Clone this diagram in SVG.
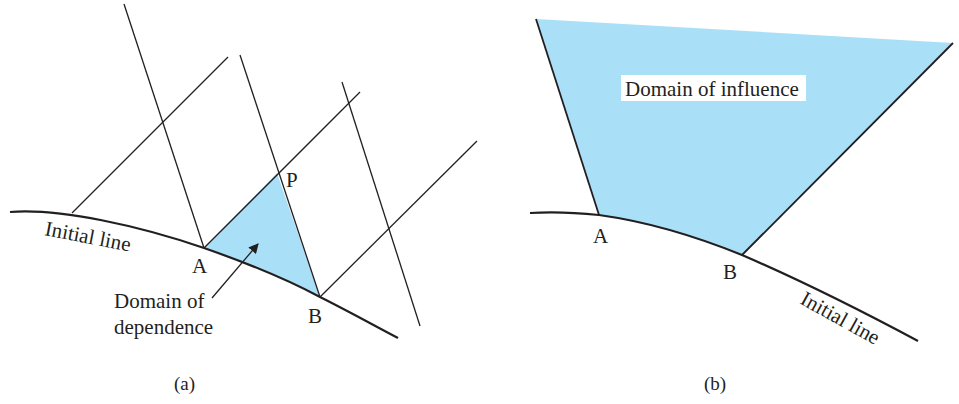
<svg xmlns="http://www.w3.org/2000/svg" width="959" height="404" viewBox="0 0 959 404">
<style>
.ln{stroke:#231f20;stroke-width:1.3;fill:none}
.cv{stroke:#231f20;stroke-width:2.2;fill:none}
.fill{fill:#aadff8;stroke:none}
text{font-family:"Liberation Serif","Times New Roman",serif;fill:#231f20}
.lb{font-size:21px}
</style>
<defs>
<marker id="ah" markerWidth="10" markerHeight="10" refX="9" refY="5" orient="auto" markerUnits="userSpaceOnUse">
<path d="M0,0 L10,5 L0,10 Z" fill="#231f20"/>
</marker>
</defs>
<g id="panel-a">
<path id="dod-region" class="fill" d="M204,248 L277,173 L320,297 C290,281 250,264 204,248 Z"/>
<g id="characteristics-a">
<line class="ln" x1="124" y1="4" x2="204" y2="248"/>
<line class="ln" x1="240" y1="55" x2="320" y2="297"/>
<line class="ln" x1="342" y1="82" x2="420" y2="326"/>
<line class="ln" x1="72" y1="213" x2="228" y2="57"/>
<line class="ln" x1="204" y1="248" x2="360" y2="92"/>
<line class="ln" x1="320" y1="297" x2="477" y2="141"/>
</g>
<path id="initial-line-a" class="cv" d="M10,212 C60,208 140,226 204,248 C250,264 290,281 320,297 C350,312 375,326 398,338"/>
<g id="arrow-a">
<line class="ln" x1="212" y1="298" x2="258" y2="244" marker-end="url(#ah)"/>
</g>
<text class="lb" x="44" y="235" transform="rotate(11 44 235)">Initial line</text>
<text class="lb" x="192" y="273">A</text>
<text class="lb" x="286" y="187">P</text>
<text class="lb" x="308" y="323">B</text>
<text class="lb" x="114" y="308">Domain of</text>
<text class="lb" x="114" y="334">dependence</text>
<text class="lb" x="174" y="390" style="font-size:19px">(a)</text>
</g>
<g id="panel-b">
<path id="doi-region" class="fill" d="M536,19 L953,43 L742,255 C700,238 650,222 599,215 Z"/>
<line class="ln" x1="536" y1="19" x2="599" y2="215" style="stroke-width:1.8"/>
<line class="ln" x1="953" y1="43" x2="742" y2="255" style="stroke-width:1.8"/>
<path id="initial-line-b" class="cv" d="M530,213 C560,211 580,213 599,215 C650,222 700,238 742,255 C800,280 860,310 918,341"/>
<g id="doi-label">
<rect x="621" y="75" width="185" height="26" fill="#ffffff"/>
<text class="lb" x="625" y="96">Domain of influence</text>
</g>
<text class="lb" x="593" y="243">A</text>
<text class="lb" x="723" y="279">B</text>
<text class="lb" x="799" y="303" transform="rotate(29 799 303)">Initial line</text>
<text class="lb" x="704" y="390" style="font-size:19px">(b)</text>
</g>
</svg>
